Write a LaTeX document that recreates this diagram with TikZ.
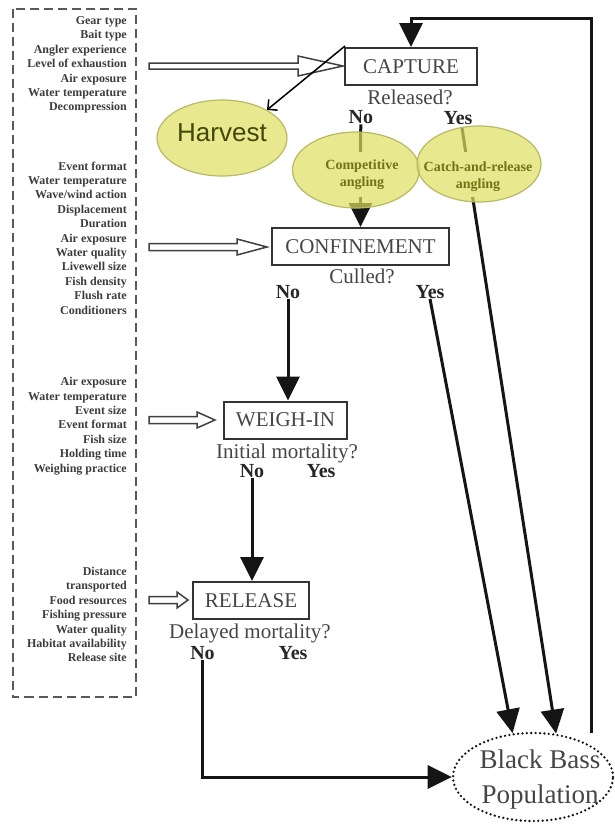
\documentclass[tikz,border=0pt]{standalone}
\usepackage{fontspec}
\setmainfont{Liberation Serif}
\newfontfamily\sansf{Liberation Sans}
\usetikzlibrary{arrows.meta,shapes.geometric}
\definecolor{txtgray}{HTML}{454545}
\definecolor{factgray}{HTML}{3C3C3C}
\definecolor{boxline}{HTML}{333333}
\definecolor{ellbase}{RGB}{222,222,95}
\definecolor{ellline}{RGB}{185,185,100}
\definecolor{olivetxt}{RGB}{115,115,20}
\definecolor{harvtxt}{RGB}{70,70,10}
\definecolor{linec}{HTML}{151515}
\newcommand{\hollowarr}[5]{\draw[hollow] (149,#1-#5) -- (#2-#3,#1-#5) -- (#2-#3,#1-#4) -- (#2,#1) -- (#2-#3,#1+#4) -- (#2-#3,#1+#5) -- (149,#1+#5) -- cycle;}
\begin{document}
\begin{tikzpicture}[x=1pt,y=-1pt,
  factors/.style={anchor=east,align=right,font=\bfseries\fontsize{12}{14.4}\selectfont,text=factgray,inner sep=0pt},
  stage/.style={draw=boxline,line width=2pt,minimum height=37pt,inner sep=0pt,font=\fontsize{21}{24}\selectfont,text=txtgray},
  question/.style={font=\fontsize{21}{24}\selectfont,text=txtgray,inner sep=0pt,text depth=2pt},
  yesno/.style={font=\bfseries\fontsize{20}{24}\selectfont,text=black!85,inner sep=0pt},
  oval/.style={ellipse,draw=ellline,line width=1.2pt,fill=ellbase,fill opacity=0.7,inner sep=0pt},
  ovaltext/.style={align=center,font=\bfseries\fontsize{14}{17}\selectfont,text=olivetxt,inner sep=0pt},
  flow/.style={draw=linec,line width=3pt,line join=miter,-{Triangle[length=24pt,width=23pt]}},
  plain/.style={draw=linec,line width=3pt},
  hollow/.style={draw=black!75,line width=1.5pt,fill=white,line join=miter},
]
\useasboundingbox (0,0) rectangle (615,825);

% factor box
\draw[draw=black!65,line width=2pt,dash pattern=on 9pt off 5pt] (12.5,9) rectangle (135.5,697);
\node[factors] (f1) at (127,65) {Gear type\\Bait type\\Angler experience\\Level of exhaustion\\Air exposure\\Water temperature\\Decompression};
\node[factors] (f2) at (127,238) {Event format\\Water temperature\\Wave/wind action\\Displacement\\Duration\\Air exposure\\Water quality\\Livewell size\\Fish density\\Flush rate\\Conditioners};
\node[factors] (f3) at (127,426) {Air exposure\\Water temperature\\Event size\\Event format\\Fish size\\Holding time\\Weighing practice};
\node[factors] (f4) at (127,614.5) {Distance\\transported\\Food resources\\Fishing pressure\\Water quality\\Habitat availability\\Release site};

% stages
\node[stage,minimum width=132pt] (capture) at (411,66.5) {CAPTURE};
\node[stage,minimum width=177pt] (conf) at (360.5,246.5) {CONFINEMENT};
\node[stage,minimum width=123pt] (weigh) at (285.5,420) {WEIGH-IN};
\node[stage,minimum width=116pt] (rel) at (251,600.5) {RELEASE};

\node[question] (qcap) at (410,98.5) {Released?};
\node[question] (qconf) at (362,277.5) {Culled?};
\node[question] (qweigh) at (287,452.5) {Initial mortality?};
\node[question] (qrel) at (250,632.5) {Delayed mortality?};

\node[yesno] (cno) at (360.8,117.5) {No};
\node[yesno] (cyes) at (458,118) {Yes};
\node[yesno] (confno) at (288,292) {No};
\node[yesno] (confyes) at (430,292) {Yes};
\node[yesno] (weighno) at (252,471) {No};
\node[yesno] (weighyes) at (321,471) {Yes};
\node[yesno] (relno) at (202.5,653) {No};
\node[yesno] (relyes) at (293,653) {Yes};

% population
\node[ellipse,draw=linec,line width=2.6pt,dash pattern=on 0pt off 4.4pt,line cap=round,minimum width=160pt,minimum height=88pt,inner sep=0pt] (bbp) at (533,777) {};
\node[align=center,font=\fontsize{27}{35}\selectfont,text=txtgray,inner sep=0pt] (bbptext) at (540,779) {Black Bass\\Population};

% hollow arrows
\hollowarr{66}{343}{45}{10}{3}
\hollowarr{247}{267}{30}{8}{3.5}
\hollowarr{420}{215}{18}{8}{3.5}
\hollowarr{600}{188}{11}{8}{3.5}

% flow lines
\coordinate (c1) at (360.5,152);
\coordinate (c2) at (360.5,197);
\draw[plain] (cno.south) -- (c1);
\draw[flow] (c2) -- (c2 |- conf.north);
\coordinate (y0) at (462,128);
\coordinate (y1) at (465.7,152);
\coordinate (y2) at (472.6,197);
\draw[plain] (y0) -- (y1);
\draw[flow] (y2) -- (bbp.62);
\draw[flow] (confyes.south) -- (bbp.115);
\draw[flow] (confno.south) -- (confno.south |- weigh.north);
\draw[flow] (weighno.south) -- (weighno.south |- rel.north);
\draw[flow] (relno.south) |- (bbp.west);
\coordinate (fb) at (591,733);
\coordinate (fbtop) at (411,18);
\draw[flow] (fb) |- (fbtop) -- (capture.north);

% ovals
\node[oval,minimum width=130pt,minimum height=76pt] (harvest) at (222,138) {};
\node[oval,minimum width=127pt,minimum height=76pt] (comp) at (356,170) {};
\node[oval,minimum width=124pt,minimum height=76pt] (cnr) at (479,164) {};
\node[font=\sansf\fontsize{26}{30}\selectfont,text=harvtxt,inner sep=0pt] (harvtext) at (222,133) {Harvest};
\node[ovaltext] (comptext) at (362,175) {Competitive\\angling};
\node[ovaltext] (cnrtext) at (478,176.5) {Catch-and-release\\angling};

% harvest arrow
\coordinate (hs) at (345,46);
\draw[line width=1.5pt,-{Straight Barb[length=7pt,width=14pt]}] (hs) -- (harvest.32);
\end{tikzpicture}
\end{document}
